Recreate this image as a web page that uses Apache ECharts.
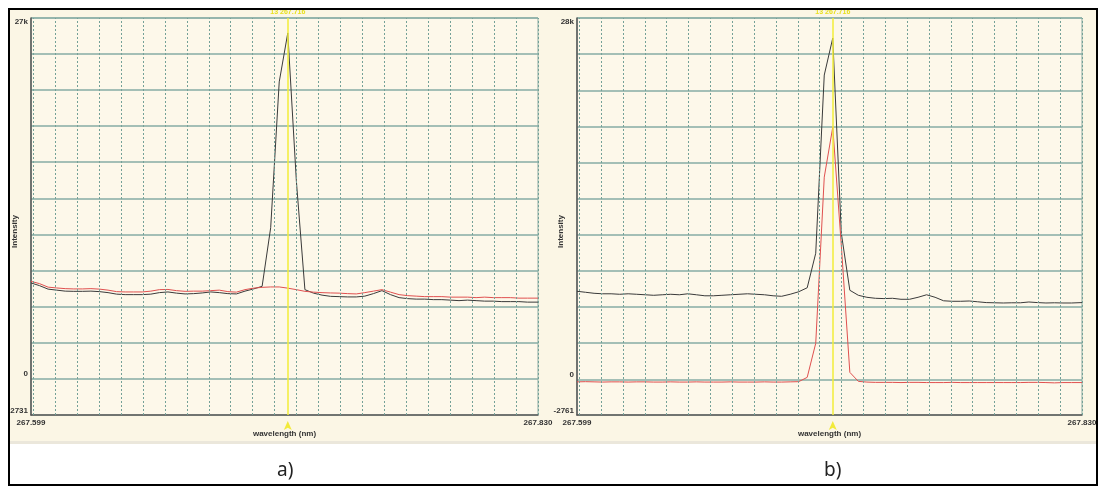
<!DOCTYPE html>
<html><head><meta charset="utf-8">
<script src="https://cdn.jsdelivr.net/npm/echarts@6/dist/echarts.min.js"></script>
<style>html,body{margin:0;padding:0;background:#fff}#c{width:1104px;height:493px}</style>
</head><body><div id="c"></div>
<script>
// ---- data ----
const wavelengths = [267.5990,267.6029,267.6068,267.6107,267.6146,267.6185,267.6224,267.6263,267.6302,267.6341,
267.6380,267.6419,267.6458,267.6497,267.6536,267.6575,267.6614,267.6653,267.6692,267.6731,
267.6770,267.6809,267.6848,267.6887,267.6926,267.6965,267.7004,267.7043,267.7082,267.7121,
267.7160,267.7199,267.7238,267.7277,267.7316,267.7355,267.7394,267.7433,267.7472,267.7511,
267.7550,267.7589,267.7628,267.7667,267.7706,267.7745,267.7784,267.7823,267.7862,267.7901,
267.7940,267.7979,267.8018,267.8057,267.8096,267.8135,267.8174,267.8213,267.8252,267.8300];

// panel a)
const leftBlack = [7158,6956,6695,6620,6545,6530,6530,6545,6508,6433,
6321,6283,6283,6283,6321,6433,6485,6395,6336,6358,
6410,6485,6433,6358,6336,6545,6710,6904,11295,22216,
25881,14810,6657,6395,6246,6156,6134,6111,6111,6171,
6358,6582,6283,6059,5984,5947,5947,5909,5909,5872,
5834,5872,5834,5797,5797,5760,5760,5760,5722,5722];
const leftRed = [7278,7106,6844,6784,6732,6710,6710,6732,6695,6620,
6508,6485,6485,6485,6545,6657,6672,6582,6530,6545,
6545,6582,6620,6508,6470,6657,6769,6829,6859,6859,
6769,6657,6530,6470,6433,6410,6395,6358,6336,6433,
6545,6657,6470,6283,6208,6171,6134,6134,6134,6096,
6096,6096,6059,6096,6059,6059,6059,6021,6021,6021];

// panel b)
const rightBlack = [6825,6748,6670,6631,6631,6593,6631,6593,6554,6515,
6554,6593,6554,6631,6554,6476,6476,6515,6554,6593,
6631,6593,6554,6476,6437,6593,6787,7097,9773,23578,
26448,11324,6903,6515,6360,6282,6259,6282,6205,6205,
6360,6554,6360,6088,6050,6050,6073,6011,5949,5933,
5918,5933,5933,5995,5949,5918,5933,5918,5918,5949];
const rightRed = [-194,-178,-194,-209,-194,-194,-209,-194,-194,-209,
-209,-194,-209,-209,-194,-209,-209,-209,-194,-209,
-209,-209,-194,-209,-209,-194,-178,155,2792,15667,
19545,10393,543,-155,-209,-233,-233,-233,-248,-233,
-233,-248,-248,-248,-233,-248,-248,-248,-248,-248,
-248,-248,-248,-233,-233,-248,-271,-248,-248,-248];

// axes
const xMin = 267.599, xMax = 267.830;
const xTickLabels = [267.599, 267.830];
const xGridLines = [267.60,267.61,267.62,267.63,267.64,267.65,267.66,267.67,267.68,267.69,267.70,267.71,
267.72,267.73,267.74,267.75,267.76,267.77,267.78,267.79,267.80,267.81,267.82,267.83];
const leftYMin = -2731, leftYMax = 27000;
const leftYGrid = [0,2700,5400,8100,10800,13500,16200,18900,21600,24300,27000];
const leftYLabels = [-2731, 0, 27000];
const rightYMin = -2761, rightYMax = 28000;
const rightYGrid = [0,2800,5600,8400,11200,14000,16800,19600,22400,25200,28000];
const rightYLabels = [-2761, 0, 28000];
const cursorWavelength = 267.716;
const cursorLabel = '13 267.716';
const panelLabels = ['a)', 'b)'];

// ---- chart ----
const font = '"Liberation Sans", Arial, sans-serif';
const lblStyle = {fontFamily: font, fontSize: 8, fontWeight: 'bold', color: '#333'};
const pairs = arr => wavelengths.map((w, i) => [w, arr[i]]);

function makeX(gi) {
  return {
    type: 'value', gridIndex: gi, min: xMin, max: xMax,
    name: 'wavelength (nm)', nameLocation: 'middle', nameGap: 15, nameMoveOverlap: false,
    nameTextStyle: lblStyle,
    axisLine: {show: true, onZero: false, lineStyle: {color: '#555', width: 1.5}},
    axisTick: {show: false},
    axisLabel: Object.assign({customValues: xTickLabels, margin: 4,
      formatter: v => v.toFixed(3)}, lblStyle),
    splitLine: {show: false}
  };
}
function makeY(gi, yMin, yMax, grid, labels) {
  return {
    type: 'value', gridIndex: gi, min: yMin, max: yMax,
    name: 'Intensity', nameLocation: 'middle', nameGap: 12, nameMoveOverlap: false,
    nameTextStyle: Object.assign({padding: [0, 30, 0, 0]}, lblStyle),
    axisLine: {show: true, onZero: false, lineStyle: {color: '#555', width: 1.5}},
    axisTick: {show: false, customValues: grid},
    axisLabel: Object.assign({customValues: labels, margin: 3,
      formatter: v => v === yMax ? '{t|' + Math.round(v / 1000) + 'k}' : '{b|' + v + '}',
      rich: {t: {padding: [8, 0, 0, 0]}, b: {padding: [0, 0, 9, 0]}}}, lblStyle),
    splitLine: {show: true, lineStyle: {color: '#86ada4', width: 1.5}}
  };
}
function cursor(yMin, yMax) {
  return {
    markLine: {
      silent: true, symbol: 'none', animation: false,
      lineStyle: {color: '#f2ee3a', width: 1.5, type: 'solid'},
      label: {show: true, position: 'end', formatter: cursorLabel, color: '#e8e020',
        fontSize: 7, fontFamily: font, fontWeight: 'bold', distance: 2},
      data: [[{coord: [cursorWavelength, yMin]}, {coord: [cursorWavelength, yMax]}]]
    },
    markPoint: {
      silent: true, animation: false, symbol: 'arrow', symbolSize: [6, 9], symbolOffset: [0, 6],
      itemStyle: {color: '#f2ea3a'}, label: {show: false},
      data: [{coord: [cursorWavelength, yMin]}]
    }
  };
}
function line(name, gi, data, color, extra) {
  return Object.assign({
    name, type: 'line', xAxisIndex: gi, yAxisIndex: gi, data: pairs(data), z: 3,
    showSymbol: false, symbol: 'none', animation: false,
    lineStyle: {color, width: 1}, itemStyle: {color}
  }, extra || {});
}
// vertical dotted grid lines drawn through the x scale
function vGrid(gi) {
  return {
    name: 'vgrid' + gi, type: 'line', xAxisIndex: gi, yAxisIndex: gi, data: [], z: 1,
    silent: true, animation: false,
    markLine: {
      silent: true, symbol: 'none', animation: false, label: {show: false},
      lineStyle: {color: '#74a198', width: 1, type: [2, 2]},
      emphasis: {disabled: true},
      data: xGridLines.map(v => ({xAxis: v}))
    }
  };
}

const chart = echarts.init(document.getElementById('c'), null, {renderer: 'canvas'});
chart.setOption({
  backgroundColor: '#ffffff',
  animation: false,
  title: [
    {text: panelLabels[0], left: 272, top: 456, textStyle: {fontFamily: '"Noto Sans", sans-serif', fontSize: 19, fontWeight: 'normal', color: '#222'}},
    {text: panelLabels[1], left: 819, top: 456, textStyle: {fontFamily: '"Noto Sans", sans-serif', fontSize: 19, fontWeight: 'normal', color: '#222'}}
  ],
  graphic: {elements: [
    {type: 'rect', z: -100, silent: true, shape: {x: 10, y: 10, width: 1086, height: 431}, style: {fill: '#fbf6e5'}},
    {type: 'rect', z: -100, silent: true, shape: {x: 10, y: 441, width: 1086, height: 3}, style: {fill: '#ebe7db'}},
    {type: 'rect', z: 100, silent: true, shape: {x: 0, y: 0, width: 9, height: 493}, style: {fill: '#fff'}},
    {type: 'rect', z: 100, silent: true, shape: {x: 0, y: 0, width: 1104, height: 9}, style: {fill: '#fff'}},
    {type: 'rect', z: 101, silent: true, shape: {x: 9, y: 9, width: 1088, height: 476}, style: {fill: null, stroke: '#000', lineWidth: 2}}
  ]},
  grid: [
    {left: 31, top: 18, width: 507, height: 397, show: true, backgroundColor: '#fdf8ea', borderColor: '#8aaba2', borderWidth: 1},
    {left: 577, top: 18, width: 505, height: 397, show: true, backgroundColor: '#fdf8ea', borderColor: '#8aaba2', borderWidth: 1}
  ],
  xAxis: [makeX(0), makeX(1)],
  yAxis: [makeY(0, leftYMin, leftYMax, leftYGrid, leftYLabels), makeY(1, rightYMin, rightYMax, rightYGrid, rightYLabels)],
  series: [
    vGrid(0), vGrid(1),
    line('a) black', 0, leftBlack, '#3a3a3a', cursor(leftYMin, leftYMax)),
    line('a) red', 0, leftRed, '#e0504f'),
    line('b) black', 1, rightBlack, '#3a3a3a', cursor(rightYMin, rightYMax)),
    line('b) red', 1, rightRed, '#e0504f')
  ]
});
</script></body></html>
